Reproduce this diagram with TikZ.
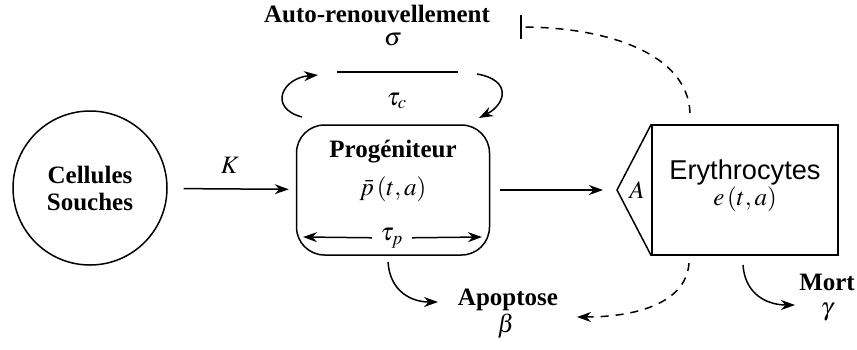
\documentclass[tikz,border=0pt]{standalone}
\usepackage{mathptmx}
\usepackage{fontspec}
\setmainfont{Liberation Serif}
\newfontfamily\erysans{Liberation Sans}
\newfontfamily\labelbf{Liberation Serif Bold}
\usetikzlibrary{arrows.meta}
\tikzset{>={Stealth[length=7pt,width=5pt]}}

\begin{document}
\begin{tikzpicture}[x=0.5pt,y=-0.5pt,line width=0.75pt,font=\fontsize{12.5}{13.5}\selectfont,inner sep=1.5pt]

  \useasboundingbox (0,0) rectangle (857,349);

  \node[draw, circle, minimum size=77pt, inner sep=0pt, align=center, font=\labelbf\fontsize{12.5}{13.5}\selectfont] (souches) at (90,188) {Cellules\\Souches};
  \node[draw, rounded corners=14pt, minimum width=96.5pt, minimum height=65pt] (progen) at (393,190) {};
  \node[draw, minimum width=93pt, minimum height=65pt] (erythro) at (745,190) {};
  \node[coordinate] (a_tip) at (617,190) {};

  \node[coordinate] (tp_left) at (303,237) {};
  \node[coordinate] (tp_right) at (482,237) {};
  \node[coordinate] (bar_l) at (337,72) {};
  \node[coordinate] (bar_r) at (458,72) {};
  \node[coordinate] (loop_l_start) at (302,117) {};
  \node[coordinate] (loop_l_end) at (318,75) {};
  \node[coordinate] (loop_r_start) at (477,74) {};
  \node[coordinate] (loop_r_end) at (479,118) {};
  \node[coordinate] (apo_start) at (388,262) {};
  \node[coordinate] (apo_end) at (438,302) {};
  \node[coordinate] (mort_start) at (743,265) {};
  \node[coordinate] (mort_end) at (795,305) {};
  \node[coordinate] (fb_top_start) at (690,113) {};
  \node[coordinate] (fb_top_end) at (520,27) {};
  \node[coordinate] (fb_bot_start) at (689,263) {};
  \node[coordinate] (fb_bot_end) at (577,317) {};

  \node[font=\labelbf\fontsize{12.5}{13.5}\selectfont] (auto) at (377,14) {Auto-renouvellement};
  \node (sigma) at (393,40) {$\sigma$};
  \node (tau_c) at (397,101) {$\tau_{c}$};
  \node (k_label) at (230,165) {$K$};
  \node[font=\labelbf\fontsize{12.5}{13.5}\selectfont] (progen_name) at (393,152) {Progéniteur};
  \node (progen_var) at (393,189) {$\bar{p}\,(t,a)$};
  \node[inner sep=4pt] (tau_p) at (392,238) {$\tau_{p}$};
  \node (a_label) at (637,190) {$A$};
  \node[font=\erysans\fontsize{13.6}{15}\selectfont] (ery_name) at (745,172) {Erythrocytes};
  \node (ery_var) at (745,199) {$e\,(t,a)$};
  \node[font=\labelbf\fontsize{12.5}{13.5}\selectfont] (apo_label) at (508,300) {Apoptose};
  \node (beta) at (506,326) {$\beta$};
  \node[font=\labelbf\fontsize{12.5}{13.5}\selectfont] (mort_label) at (827,282) {Mort};
  \node (gamma) at (827,312) {$\gamma$};

  \draw (erythro.north west) -- (a_tip) -- (erythro.south west);
  \draw (bar_l) -- (bar_r);

  \draw[->, shorten <=8pt, shorten >=3.5pt] (souches) -- (progen);
  \draw[->, shorten <=5pt, shorten >=7pt] (progen) -- (a_tip);
  \draw[->] (tau_p) -- (tp_left);
  \draw[->] (tau_p) -- (tp_right);

  \draw[->] (loop_l_start) .. controls (268,108) and (282,78) .. (loop_l_end);
  \draw[->] (loop_r_start) .. controls (512,80) and (506,104) .. (loop_r_end);
  \draw[->] (apo_start) .. controls (390,292) and (412,302) .. (apo_end);
  \draw[->] (mort_start) .. controls (745,295) and (768,305) .. (mort_end);

  \draw[-{Bar[width=12pt]}, dash pattern=on 4pt off 3.5pt] (fb_top_start) .. controls (688,55) and (610,27) .. (fb_top_end);
  \draw[->, dash pattern=on 4pt off 3.5pt] (fb_bot_start) .. controls (686,305) and (632,317) .. (fb_bot_end);

\end{tikzpicture}
\end{document}
